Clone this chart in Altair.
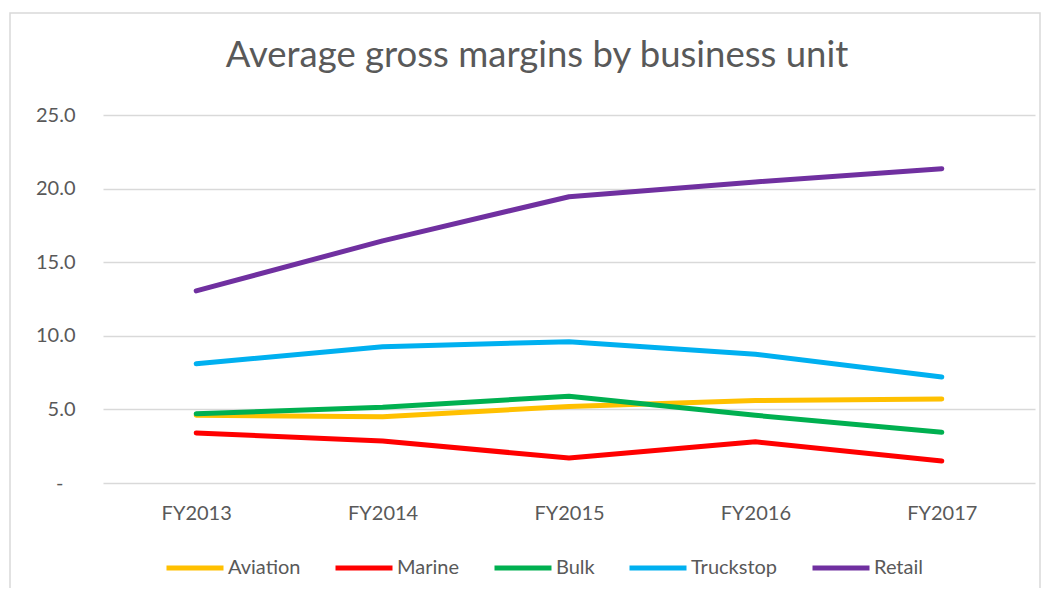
import altair as alt
import pandas as pd

years = ["FY2013", "FY2014", "FY2015", "FY2016", "FY2017"]
series_names = ["Aviation", "Marine", "Bulk", "Truckstop", "Retail"]
aviation = [4.6, 4.5, 5.2, 5.6, 5.7]
marine = [3.4, 2.85, 1.7, 2.8, 1.5]
bulk = [4.7, 5.15, 5.9, 4.6, 3.45]
truckstop = [8.1, 9.25, 9.6, 8.75, 7.2]
retail = [13.05, 16.45, 19.45, 20.45, 21.35]
colors = ["#FFC000", "#FF0000", "#00B050", "#00B0F0", "#7030A0"]
title_text = "Average gross margins by business unit"

rows = []
for name, vals in zip(series_names, [aviation, marine, bulk, truckstop, retail]):
    for y, v in zip(years, vals):
        rows.append({"year": y, "series": name, "value": v})
df = pd.DataFrame(rows)

FONT = "Lato"
TXT = "#595959"

lines = alt.Chart(df).mark_line(strokeWidth=5, strokeCap="round", strokeJoin="round").encode(
    x=alt.X("year:N", sort=years, scale=alt.Scale(type="point", padding=0.5),
            axis=alt.Axis(title=None, domain=False, ticks=False, grid=False,
                          labelFont=FONT, labelFontSize=20, labelColor=TXT,
                          labelPadding=20, labelAngle=0)),
    y=alt.Y("value:Q", scale=alt.Scale(domain=[0, 25], nice=False),
            axis=alt.Axis(title=None, domain=False, ticks=False, values=[0, 5, 10, 15, 20, 25],
                          labelExpr="datum.value == 0 ? '-' : format(datum.value, '.1f')",
                          labelFont=FONT, labelFontSize=20, labelColor=TXT,
                          labelPadding={"condition": {"test": "datum.value == 0", "value": 40}, "value": 28},
                          gridColor="#D9D9D9", gridWidth=1.5)),
    color=alt.Color("series:N", sort=series_names,
                    scale=alt.Scale(domain=series_names, range=colors),
                    legend=alt.Legend(title=None, orient="none", direction="horizontal",
                                      legendX=61, legendY=422,
                                      symbolType="stroke", symbolStrokeWidth=5, symbolSize=3249,
                                      labelFont=FONT, labelFontSize=20, labelColor=TXT,
                                      labelOffset=2, columnPadding=24)),
)

frame = alt.Chart(pd.DataFrame({"a": [0]})).mark_rect(
    fill=None, stroke="#D9D9D9", strokeWidth=1.5
).encode(x=alt.value(-93), x2=alt.value(937), y=alt.value(-102), y2=alt.value(490))

title = alt.Chart(pd.DataFrame({"t": [title_text]})).mark_text(
    font=FONT, fontSize=36.5, color=TXT, align="center", baseline="alphabetic"
).encode(text="t:N", x=alt.value(434), y=alt.value(-48))

chart = alt.layer(frame, lines, title).properties(
    width=932, height=368,
    autosize=alt.AutoSizeParams(type="none"),
    padding={"left": 95, "top": 107, "right": 7, "bottom": 105},
).configure_view(stroke=None)

chart.save("out.html", embed_options={"renderer": "svg", "actions": False})
